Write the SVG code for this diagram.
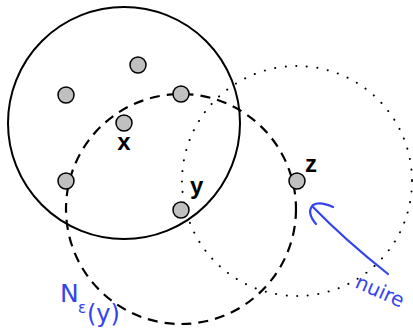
<svg xmlns="http://www.w3.org/2000/svg" width="413" height="331" viewBox="0 0 413 331">
<style>
.node{fill:#c0c0c0;stroke:#000;stroke-width:1.5}
.lbl{font-family:"Liberation Sans","DejaVu Sans",sans-serif;font-weight:bold;font-size:24px;fill:#000}
.hand{font-family:"DejaVu Sans","Liberation Sans",sans-serif;fill:#3344ee}
.ink{fill:none;stroke:#3344ee;stroke-width:2.2;stroke-linecap:round}
</style>
<rect width="413" height="331" fill="#fff"/>
<g id="connectors">
<circle cx="124" cy="123" r="116" fill="none" stroke="#000" stroke-width="2"/>
<circle cx="181" cy="209" r="115" fill="none" stroke="#000" stroke-width="2.2" stroke-dasharray="10,7"/>
<circle cx="297" cy="181" r="115" fill="none" stroke="#000" stroke-width="2" stroke-dasharray="0.1,10.5" stroke-linecap="round"/>
<path class="ink" d="M388,274 Q345,240 313,207"/>
<path class="ink" d="M316,224 Q306,212 313,205 Q320,201 333,207"/>
</g>
<g id="n1"><circle class="node" cx="138" cy="65" r="8"/></g>
<g id="n2"><circle class="node" cx="66" cy="95" r="8"/></g>
<g id="n3"><circle class="node" cx="181" cy="94" r="8"/></g>
<g id="x"><circle class="node" cx="124" cy="123" r="8"/><text class="lbl" x="124" y="150" text-anchor="middle">x</text></g>
<g id="n5"><circle class="node" cx="66" cy="181" r="8"/></g>
<g id="y"><circle class="node" cx="181" cy="210" r="8"/><text class="lbl" x="190" y="194">y</text></g>
<g id="z"><circle class="node" cx="297" cy="181" r="8"/><text class="lbl" x="305" y="172">z</text></g>
<g id="neps">
<text class="hand" x="60" y="302" font-size="25">N</text>
<text class="hand" x="78" y="313" font-size="15">ε</text>
<text class="hand" x="87" y="322" font-size="24">(y)</text>
</g>
<g id="note">
<text class="hand" x="354" y="287" font-size="20" transform="rotate(24 354 287)">nuire</text>
</g>
</svg>
